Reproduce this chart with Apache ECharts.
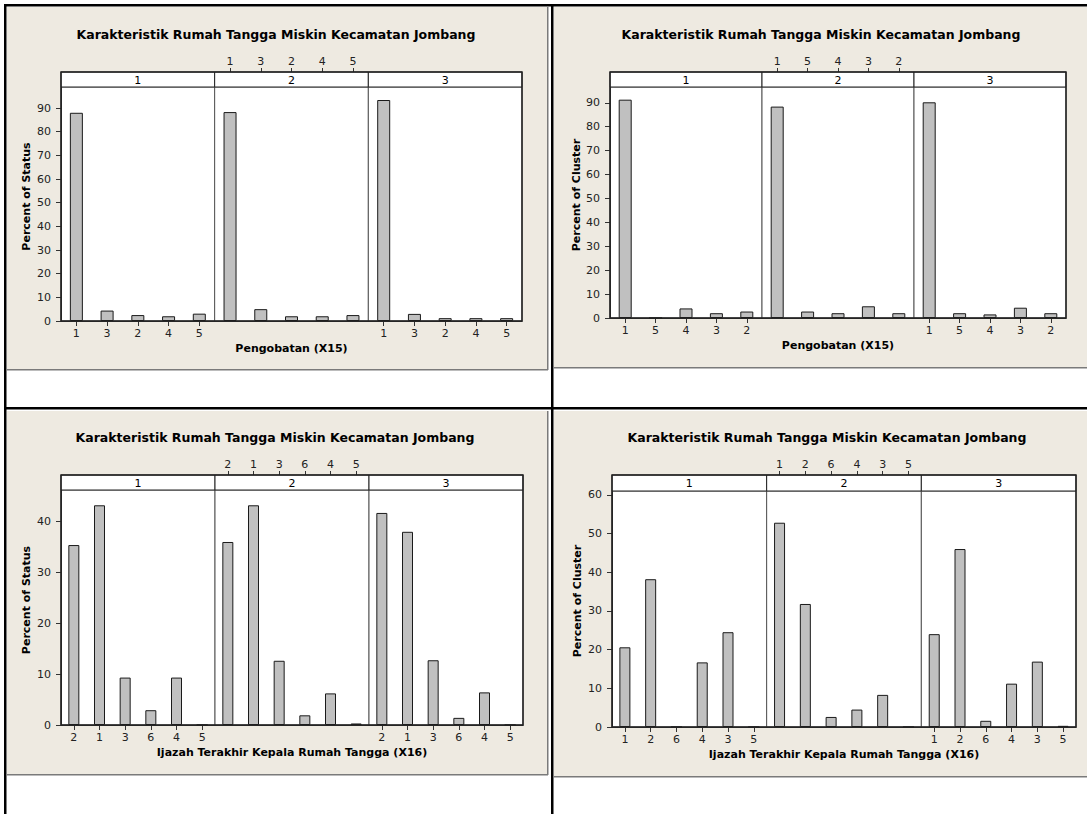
<!DOCTYPE html>
<html><head><meta charset="utf-8">
<script src="https://cdn.jsdelivr.net/npm/echarts@6/dist/echarts.min.js"></script>
<style>html,body{margin:0;padding:0;background:#fff;} #c{width:1087px;height:814px;}</style>
</head><body><div id="c"></div>
<script>
// ---------------- DATA ----------------
const chartTitle = 'Karakteristik Rumah Tangga Miskin Kecamatan Jombang';
const facetLabels = ['1', '2', '3'];

// Pengobatan (X15) by Status
const x15StatusCats = ['1', '3', '2', '4', '5'];
const x15StatusF1 = [88.0, 4.4, 2.5, 2.0, 3.1];
const x15StatusF2 = [88.3, 5.0, 2.0, 2.0, 2.5];
const x15StatusF3 = [93.4, 3.0, 1.2, 1.2, 1.2];

// Pengobatan (X15) by Cluster
const x15ClusterCats = ['1', '5', '4', '3', '2'];
const x15ClusterF1 = [91.3, 0, 4.0, 2.0, 2.7];
const x15ClusterF2 = [88.4, 2.7, 2.0, 4.9, 2.0];
const x15ClusterF3 = [90.2, 2.0, 1.5, 4.3, 2.0];

// Ijazah (X16) by Status
const x16StatusCats = ['2', '1', '3', '6', '4', '5'];
const x16StatusF1 = [35.3, 43.1, 9.3, 2.9, 9.3, 0];
const x16StatusF2 = [35.9, 43.1, 12.6, 1.9, 6.2, 0.3];
const x16StatusF3 = [41.6, 37.9, 12.7, 1.4, 6.4, 0];

// Ijazah (X16) by Cluster
const x16ClusterCats = ['1', '2', '6', '4', '3', '5'];
const x16ClusterF1 = [20.6, 38.2, 0, 16.7, 24.5, 0];
const x16ClusterF2 = [52.8, 31.8, 2.6, 4.5, 8.3, 0];
const x16ClusterF3 = [24.0, 46.0, 1.6, 11.2, 16.9, 0.3];

// Y tick labels
const yTicksX15 = [0, 10, 20, 30, 40, 50, 60, 70, 80, 90];
const yTicksX16Status = [0, 10, 20, 30, 40];
const yTicksX16Cluster = [0, 10, 20, 30, 40, 50, 60];

const yTitleStatus = 'Percent of Status';
const yTitleCluster = 'Percent of Cluster';
const xTitleX15 = 'Pengobatan (X15)';
const xTitleX16 = 'Ijazah Terakhir Kepala Rumah Tangga (X16)';

// ---------------- LAYOUT ----------------
const FONT = 'DejaVu Sans';
const panels = [
  { cats: x15StatusCats, facets: [x15StatusF1, x15StatusF2, x15StatusF3], yTicks: yTicksX15, yMax: 98.9,
    yTitle: yTitleStatus, xTitle: xTitleX15,
    bg: [7, 7, 541, 363], titleXY: [276, 34], plot: [61, 522, 87, 321], stripTop: 72, yTitleX: 26, barW: 13 },
  { cats: x15ClusterCats, facets: [x15ClusterF1, x15ClusterF2, x15ClusterF3], yTicks: yTicksX15, yMax: 96.6,
    yTitle: yTitleCluster, xTitle: xTitleX15,
    bg: [554, 7, 533, 361], titleXY: [821, 34], plot: [610, 1066, 87, 318], stripTop: 72, yTitleX: 576, barW: 13 },
  { cats: x16StatusCats, facets: [x16StatusF1, x16StatusF2, x16StatusF3], yTicks: yTicksX16Status, yMax: 46.1,
    yTitle: yTitleStatus, xTitle: xTitleX16,
    bg: [7, 411, 541, 364], titleXY: [275, 437], plot: [61, 523, 490, 725], stripTop: 475, yTitleX: 26, barW: 11 },
  { cats: x16ClusterCats, facets: [x16ClusterF1, x16ClusterF2, x16ClusterF3], yTicks: yTicksX16Cluster, yMax: 61.0,
    yTitle: yTitleCluster, xTitle: xTitleX16,
    bg: [554, 411, 533, 366], titleXY: [827, 437], plot: [612, 1076, 491, 727], stripTop: 475, yTitleX: 577, barW: 11 }
];

const grids = [], xAxes = [], yAxes = [], series = [], graphics = [];

// table border lines
graphics.push({ type: 'rect', z: -5, shape: { x: 4, y: 4, width: 2.5, height: 814 }, style: { fill: '#000' } });
graphics.push({ type: 'rect', z: -5, shape: { x: 4, y: 4, width: 1087, height: 2.5 }, style: { fill: '#000' } });
graphics.push({ type: 'rect', z: -5, shape: { x: 551, y: 4, width: 2.5, height: 814 }, style: { fill: '#000' } });
graphics.push({ type: 'rect', z: -5, shape: { x: 4, y: 407, width: 1087, height: 2.5 }, style: { fill: '#000' } });

panels.forEach((p, pi) => {
  const [l, r, t, b] = p.plot;
  const fw = (r - l) / 3;
  const [bx, by, bw, bh] = p.bg;
  // beige panel + shadow
  graphics.push({ type: 'rect', z: -4, shape: { x: bx, y: by, width: bw, height: bh }, style: { fill: '#eeeae1' } });
  graphics.push({ type: 'rect', z: -3, shape: { x: bx, y: by + bh - 1, width: bw, height: 1.5 }, style: { fill: '#7a7a7a' } });
  if (bx + bw < 1080) {
    graphics.push({ type: 'rect', z: -3, shape: { x: bx + bw - 1, y: by, width: 1.5, height: bh }, style: { fill: '#7a7a7a' } });
  }
  // title
  graphics.push({ type: 'text', z: 10, x: p.titleXY[0], y: p.titleXY[1],
    style: { text: chartTitle, font: 'bold 12.5px "' + FONT + '"', fill: '#000', textAlign: 'center', textVerticalAlign: 'middle' } });
  // y title
  graphics.push({ type: 'text', z: 10, x: p.yTitleX, y: (p.stripTop + b) / 2, rotation: Math.PI / 2,
    style: { text: p.yTitle, font: 'bold 11px "' + FONT + '"', fill: '#000', textAlign: 'center', textVerticalAlign: 'middle' } });
  // outer frame
  graphics.push({ type: 'rect', z: 100, shape: { x: l, y: p.stripTop, width: r - l, height: b - p.stripTop },
    style: { fill: null, stroke: '#222', lineWidth: 1.5 } });

  for (let f = 0; f < 3; f++) {
    const gi = grids.length;
    const gx = l + f * fw;
    grids.push({ left: gx, top: t, width: fw, height: b - t, show: true, backgroundColor: '#fff',
      borderColor: '#555', borderWidth: 1, containLabel: false });
    // strip
    graphics.push({ type: 'rect', z: 50, shape: { x: gx, y: p.stripTop, width: fw, height: t - p.stripTop },
      style: { fill: '#fff', stroke: '#222', lineWidth: 1 } });
    graphics.push({ type: 'text', z: 51, x: gx + fw / 2, y: (p.stripTop + t) / 2 + 0.5,
      style: { text: facetLabels[f], font: '11px "' + FONT + '"', fill: '#000', textAlign: 'center', textVerticalAlign: 'middle' } });

    const bottomIdx = xAxes.length;
    xAxes.push({
      gridIndex: gi, type: 'category', data: p.cats, position: 'bottom',
      axisLine: { show: true, lineStyle: { color: '#333', width: 1 } },
      axisTick: { show: f !== 1, alignWithLabel: true, length: 5, lineStyle: { color: '#333' } },
      axisLabel: { show: f !== 1, interval: 0, margin: 7, fontSize: 11, fontFamily: FONT, color: '#222' },
      name: f === 1 ? p.xTitle : '', nameLocation: 'middle', nameGap: 22,
      nameTextStyle: { fontSize: 11, fontWeight: 'bold', fontFamily: FONT, color: '#000' },
      splitLine: { show: false }
    });
    if (f === 1) {
      xAxes.push({
        gridIndex: gi, type: 'category', data: p.cats, position: 'top', offset: t - p.stripTop,
        axisLine: { show: false },
        axisTick: { show: true, alignWithLabel: true, length: 4, lineStyle: { color: '#333' } },
        axisLabel: { show: true, interval: 0, margin: 5, fontSize: 11, fontFamily: FONT, color: '#222' },
        splitLine: { show: false }
      });
    }
    yAxes.push({
      gridIndex: gi, type: 'value', min: 0, max: p.yMax, interval: 10,
      axisLine: { show: f === 0, lineStyle: { color: '#333' } },
      axisTick: { show: f === 0, length: 5, customValues: p.yTicks, lineStyle: { color: '#333' } },
      axisLabel: { show: f === 0, customValues: p.yTicks, margin: 10, fontSize: 11, fontFamily: FONT, color: '#222' },
      splitLine: { show: false }
    });
    series.push({
      type: 'bar', xAxisIndex: bottomIdx, yAxisIndex: gi, data: p.facets[f], barWidth: p.barW,
      silent: true, animation: false,
      itemStyle: { color: '#c0c0c0', borderColor: '#1a1a1a', borderWidth: 1 }
    });
  }
});

const chart = echarts.init(document.getElementById('c'), null, { renderer: 'svg' });
chart.setOption({
  animation: false,
  backgroundColor: '#fff',
  grid: grids, xAxis: xAxes, yAxis: yAxes, series: series,
  graphic: { elements: graphics }
});
</script></body></html>
